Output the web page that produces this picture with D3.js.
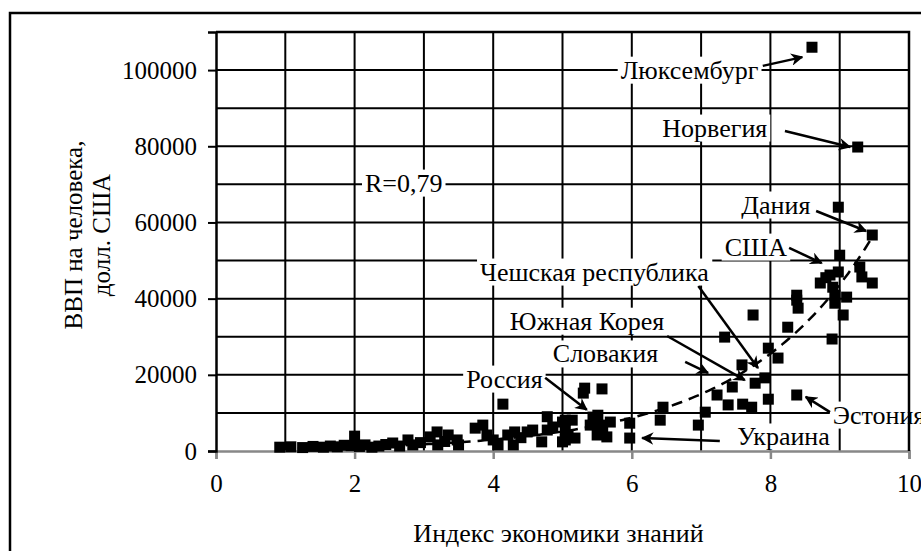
<!DOCTYPE html>
<html>
<head>
<meta charset="utf-8">
<script src="https://cdn.jsdelivr.net/npm/d3@7"></script>
<style>
  body { margin: 0; background: #fff; }
  svg text { font-family: "Liberation Serif", "Times New Roman", serif; fill: #000; }
</style>
</head>
<body>
<div id="chart"></div>
<script>
// индекс экономики знаний (x) и ВВП на человека (y)
const kei = [
  0.92, 1.08, 1.25, 1.4, 1.55, 1.65, 1.75, 1.85, 1.95, 2.0,
  2.07, 2.15, 2.25, 2.35, 2.45, 2.55, 2.65, 2.77, 2.84, 2.95,
  3.09, 3.19, 3.2, 3.3, 3.35, 3.48, 3.5, 3.74, 3.85, 3.91,
  4.0, 4.07, 4.14, 4.21, 4.29, 4.31, 4.4, 4.49, 4.57, 4.7,
  4.78, 4.78, 4.86, 5.0, 5.0, 5.04, 5.08, 5.04, 5.14, 5.18,
  5.3, 5.32, 5.4, 5.44, 5.5, 5.51, 5.54, 5.57, 5.58, 5.64,
  5.69, 5.97, 5.97, 6.41, 6.45, 6.96, 7.06, 7.23, 7.34, 7.39,
  7.45, 7.59, 7.6, 7.73, 7.75, 7.78, 7.92, 7.97, 7.97, 8.11,
  8.25, 8.38, 8.38, 8.4, 8.38, 8.6, 8.72, 8.8, 8.86, 8.89,
  8.9, 8.93, 8.93, 8.98, 8.98, 9.0, 9.05, 9.1, 9.26, 9.29,
  9.32, 9.47, 9.47, 5.04
];
const gdp = [
  1000, 1100, 900, 1200, 1000, 1300, 1100, 1500, 1400, 3900,
  1200, 1600, 1000, 1300, 1700, 2100, 1300, 2900, 1600, 2200,
  3700, 5000, 1600, 2500, 4200, 2900, 1600, 6000, 6800, 4200,
  2900, 1600, 12300, 4200, 1600, 5000, 3500, 5000, 5500, 2400,
  9000, 5500, 6300, 7600, 2400, 5500, 4200, 2900, 8100, 3400,
  15200, 16500, 6800, 8900, 4200, 9400, 6800, 16300, 6000, 3700,
  7600, 7300, 3400, 8100, 11500, 6800, 10200, 14700, 29900, 12100,
  16800, 22600, 12300, 11500, 35700, 17800, 19200, 27000, 13600, 24400,
  32500, 40900, 39600, 37500, 14700, 106000, 44100, 45500, 46200, 29400,
  43000, 40900, 38800, 64000, 47000, 51400, 35700, 40400, 79800, 48300,
  45700, 56700, 44100, 8100
];

// точки пунктирной линии тренда
const trendX = [3.6, 4.5, 5.8, 6.2, 6.7, 7.0, 7.17, 7.85, 8.28, 8.57, 9.12, 9.34, 9.5];
const trendY = [2400, 4000, 8100, 9400, 12800, 14700, 16500, 22000, 29700, 37000, 46700, 52200, 57000];

const xTicks = [0, 2, 4, 6, 8, 10];
const yTicks = [0, 20000, 40000, 60000, 80000, 100000];
const xTitle = 'Индекс экономики знаний';
const yTitle = ['ВВП на человека,', 'долл. США'];
const rLabel = 'R=0,79';

// подписи стран: текст, точка подписи, начало и конец стрелки (в единицах осей)
const labelText = ['Люксембург', 'Норвегия', 'Дания', 'США', 'Чешская республика',
  'Южная Корея', 'Словакия', 'Россия', 'Украина', 'Эстония'];
const labelAt = [[5.84, 100000], [6.44, 84800], [7.58, 64600], [7.34, 53550], [3.81, 47000],
  [4.24, 34100], [4.86, 25500], [3.61, 18900], [7.52, 3700], [8.9, 9450]];
const arrowFrom = [[7.89, 101100], [8.21, 84000], [8.66, 63000], [8.27, 53300], [6.96, 43300],
  [6.51, 30200], [6.77, 23400], [4.75, 19200], [7.27, 2600], [8.86, 10200]];
const arrowTo = [[8.46, 103400], [9.15, 79800], [9.38, 57750], [8.74, 49350], [7.82, 21800],
  [7.63, 18600], [7.1, 20500], [5.35, 10800], [6.15, 3400], [8.51, 14200]];

const W = 921, H = 551;
const margin = {top: 32, left: 216, right: 12, bottom: 100};
const width = W - margin.left - margin.right,
      height = H - margin.top - margin.bottom;

const svg = d3.select('#chart')
    .append('svg')
    .attr('width', W)
    .attr('height', H);

svg.append('defs')
    .append('marker')
    .attr('id', 'arrow')
    .attr('viewBox', '0 0 10 10')
    .attr('refX', 9)
    .attr('refY', 5)
    .attr('markerWidth', 5)
    .attr('markerHeight', 5)
    .attr('markerUnits', 'strokeWidth')
    .attr('orient', 'auto')
    .append('path')
    .attr('d', 'M0,0L10,5L0,10L3,5Z')
    .attr('fill', '#000');

// внешняя рамка
svg.append('rect')
    .attr('x', 10)
    .attr('y', 13)
    .attr('width', W + 20)
    .attr('height', H + 20)
    .attr('fill', 'none')
    .attr('stroke', '#000')
    .attr('stroke-width', 2.5);

const g = svg.append('g')
    .attr('transform', `translate(${margin.left}, ${margin.top})`);

const x = d3.scaleLinear().domain([0, 10]).range([0, width]);
const y = d3.scaleLinear().domain([0, 110000]).range([height, 0]);

// сетка
g.append('g')
    .attr('class', 'grid-y')
    .selectAll('line')
    .data(d3.range(10000, 110001, 10000))
    .join('line')
    .attr('x1', 0)
    .attr('x2', width)
    .attr('y1', d => y(d))
    .attr('y2', d => y(d))
    .attr('stroke', '#000')
    .attr('stroke-width', 2);

g.append('g')
    .attr('class', 'grid-x')
    .selectAll('line')
    .data(d3.range(1, 11))
    .join('line')
    .attr('x1', d => x(d))
    .attr('x2', d => x(d))
    .attr('y1', 0)
    .attr('y2', height)
    .attr('stroke', '#000')
    .attr('stroke-width', 2);

// белые подложки подписей закрывают сетку
const labels = g.append('g').attr('class', 'labels');
const labelNodes = labels.selectAll('g')
    .data(labelText.map((t, i) => ({t, at: labelAt[i]})).concat([{t: rLabel, at: [2.15, 70350]}]))
    .join('g');
labelNodes.append('rect').attr('fill', '#fff');
labelNodes.append('text')
    .attr('x', d => x(d.at[0]))
    .attr('y', d => y(d.at[1]))
    .attr('dy', '0.33em')
    .attr('font-size', 26)
    .text(d => d.t);
labelNodes.each(function() {
    const b = d3.select(this).select('text').node().getBBox();
    d3.select(this).select('rect')
        .attr('x', b.x - 3)
        .attr('y', b.y + 1)
        .attr('width', b.width + 6)
        .attr('height', b.height - 2);
});
labelNodes.select('text').raise();

// оси
const xAxis = d3.axisBottom(x)
    .tickValues(xTicks)
    .tickSize(8)
    .tickPadding(15)
    .tickFormat(d3.format('d'));
const xg = g.append('g')
    .attr('class', 'axis axis-x')
    .attr('transform', `translate(0, ${height})`)
    .call(xAxis);
xg.selectAll('path, line').attr('stroke', '#888').attr('stroke-width', 2.5);
xg.selectAll('text').attr('font-size', 25).attr('font-family', 'Liberation Serif');

const yAxis = d3.axisLeft(y)
    .tickValues(yTicks)
    .tickSize(8)
    .tickPadding(11)
    .tickFormat(d3.format('d'));
const yg = g.append('g')
    .attr('class', 'axis axis-y')
    .call(yAxis);
yg.select('.domain').attr('stroke', '#000').attr('stroke-width', 2.5);
yg.selectAll('line').attr('stroke', '#000').attr('stroke-width', 2);
yg.selectAll('text').attr('font-size', 25).attr('font-family', 'Liberation Serif');

// рамка области построения
g.append('path')
    .attr('d', `M0,0H${width}V${height}`)
    .attr('fill', 'none')
    .attr('stroke', '#000')
    .attr('stroke-width', 2.5);

// экспоненциальный тренд: МНК по ln(y) для считанных точек линии
const mx = d3.mean(trendX), ml = d3.mean(trendY, v => Math.log(v));
const b = d3.sum(trendX, (v, i) => (v - mx) * (Math.log(trendY[i]) - ml)) /
          d3.sum(trendX, v => (v - mx) * (v - mx));
const a = Math.exp(ml - b * mx);
const xs = d3.range(d3.min(kei), d3.max(kei) + 0.001, 0.05);
g.append('path')
    .datum(xs)
    .attr('fill', 'none')
    .attr('stroke', '#000')
    .attr('stroke-width', 2.5)
    .attr('stroke-dasharray', '11,7')
    .attr('d', d3.line().x(d => x(d)).y(d => y(a * Math.exp(b * d))));

// точки
g.append('g')
    .selectAll('rect')
    .data(kei.map((v, i) => [v, gdp[i]]))
    .join('rect')
    .attr('x', d => x(d[0]) - 5.5)
    .attr('y', d => y(d[1]) - 5.5)
    .attr('width', 11)
    .attr('height', 11)
    .attr('fill', '#000');

// стрелки
g.append('g')
    .selectAll('line')
    .data(arrowFrom.map((f, i) => [f, arrowTo[i]]))
    .join('line')
    .attr('x1', d => x(d[0][0]))
    .attr('y1', d => y(d[0][1]))
    .attr('x2', d => x(d[1][0]))
    .attr('y2', d => y(d[1][1]))
    .attr('stroke', '#000')
    .attr('stroke-width', 2.5)
    .attr('marker-end', 'url(#arrow)');

// подписи осей
g.append('text')
    .attr('x', width / 2 - 4)
    .attr('y', height + 91)
    .attr('text-anchor', 'middle')
    .attr('font-size', 26)
    .text(xTitle);

svg.append('g')
    .attr('transform', 'translate(82, 235) rotate(-90)')
    .selectAll('text')
    .data(yTitle)
    .join('text')
    .attr('x', 0)
    .attr('y', (d, i) => i * 28)
    .attr('text-anchor', 'middle')
    .attr('font-size', 25)
    .text(d => d);
</script>
</body>
</html>
